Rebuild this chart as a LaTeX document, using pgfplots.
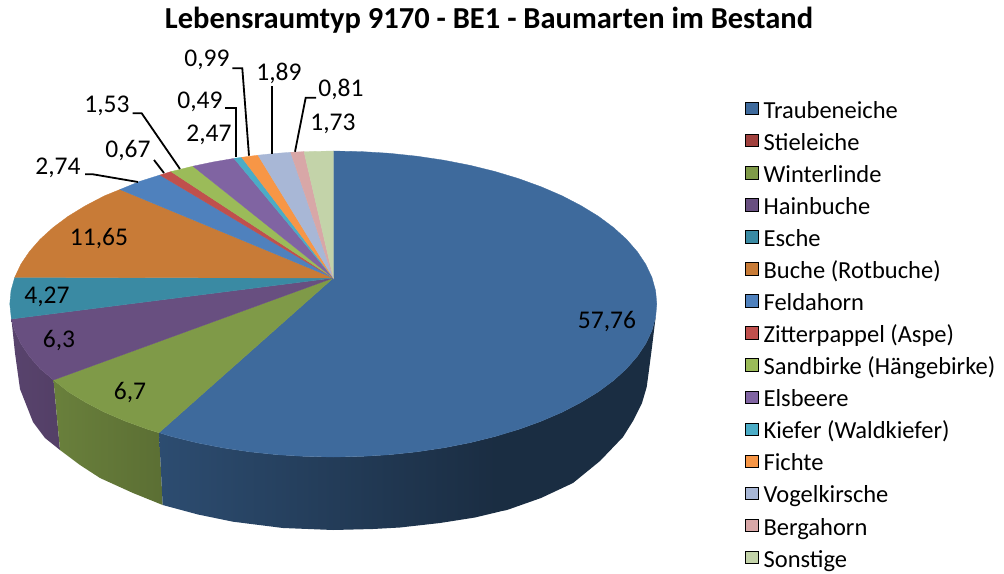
\documentclass[border=0pt]{standalone}
\usepackage{fontspec}
\setmainfont{Carlito}
\usepackage{pgfplots}
\pgfplotsset{compat=1.18}
\definecolor{tb}{HTML}{3E6A9C}\definecolor{st}{HTML}{A0403D}\definecolor{wl}{HTML}{7F9A48}
\definecolor{hb}{HTML}{684F80}\definecolor{es}{HTML}{3A8AA3}\definecolor{bu}{HTML}{C87B37}
\definecolor{fa}{HTML}{4F81BD}\definecolor{zi}{HTML}{C0504D}\definecolor{sa}{HTML}{9BBB59}
\definecolor{el}{HTML}{8064A2}\definecolor{ki}{HTML}{4BACC6}\definecolor{fi}{HTML}{F79646}
\definecolor{vo}{HTML}{A8B7D6}\definecolor{be}{HTML}{D8A7A7}\definecolor{so}{HTML}{C3D3A9}
\newcommand{\lab}{\fontsize{25.5}{25.5}\selectfont}
\tikzset{slice/.style={draw=#1,line width=0.3pt,fill=#1},lead/.style={black,line width=1.8pt}}
\begin{document}
\begin{tikzpicture}
\path[use as bounding box] (0,0) rectangle (1004pt,573pt);
\begin{axis}[at={(0,0)},anchor=south west,scale only axis,width=1004pt,height=573pt,
  xmin=0,xmax=1004,ymin=0,ymax=573,y dir=reverse,hide axis,
  legend image code/.code={\path[#1] (0pt,-1.5pt) rectangle (12.5pt,11pt);},
  legend cell align=left,
  legend style={draw=none,fill=none,font=\fontsize{24.5}{24.5}\selectfont,at={(axis cs:745,101.7)},anchor=north west,
    row sep=10.87pt,inner sep=0pt,
    nodes={inner ysep=0pt,inner xsep=5.5pt,text height=15pt,text depth=5pt}}]
% legend
\addlegendimage{fill=tb}\addlegendentry{Traubeneiche}
\addlegendimage{fill=st}\addlegendentry{Stieleiche}
\addlegendimage{fill=wl}\addlegendentry{Winterlinde}
\addlegendimage{fill=hb}\addlegendentry{Hainbuche}
\addlegendimage{fill=es}\addlegendentry{Esche}
\addlegendimage{fill=bu}\addlegendentry{Buche (Rotbuche)}
\addlegendimage{fill=fa}\addlegendentry{Feldahorn}
\addlegendimage{fill=zi}\addlegendentry{Zitterpappel (Aspe)}
\addlegendimage{fill=sa}\addlegendentry{Sandbirke (Hängebirke)}
\addlegendimage{fill=el}\addlegendentry{Elsbeere}
\addlegendimage{fill=ki}\addlegendentry{Kiefer (Waldkiefer)}
\addlegendimage{fill=fi}\addlegendentry{Fichte}
\addlegendimage{fill=vo}\addlegendentry{Vogelkirsche}
\addlegendimage{fill=be}\addlegendentry{Bergahorn}
\addlegendimage{fill=so}\addlegendentry{Sonstige}
% side faces
\addplot[forget plot,draw=none,left color=hb!85!black,right color=hb!80!black] coordinates {
 (11.4,319)(14.7,330.6)(20.8,343.6)(29.3,356.3)(40.1,368.7)(53.5,380)(60,450)(45,438)(33,422)(20,389)(15,353)} --cycle;
\addplot[forget plot,draw=none,left color=wl!83!black,right color=wl!72!black] coordinates {
 (53.5,380)(68.3,391.8)(85.5,402.3)(104.5,412.2)(125.4,421.2)(147.7,429.3)(159,432.7)(162.7,505)(133,493)(100,478)(80,465)(60,450)} --cycle;
\addplot[forget plot,draw=none,left color=tb!72!black,right color=tb!42!black] coordinates {
 (159,432.7)(171.5,436.5)(196.6,442.7)(222.7,447.8)(249.6,451.8)(277.1,454.7)(305.1,456.4)(333.3,457)(361.5,456.4)(389.5,454.7)(417,451.8)(443.9,447.8)(470,442.7)(495.1,436.5)(500,435)
 (500,511.5)(475,517.5)(440,523)(400,527.5)(373,529)(333,530)(283,528)(233,521.7)(198,514.5)(162.7,505)} --cycle;
\addplot[forget plot,draw=none,fill=tb!42!black] coordinates {
 (499.5,435)(518.9,429.3)(541.2,421.2)(562.1,412.2)(581.1,402.3)(598.3,391.8)(613.5,380.5)(626.5,368.7)(637.3,356.3)(645.8,343.6)(651.9,330.6)(655.6,317.3)
 (652,347)(649,370)(646.7,387)(642,403)(633,421)(623,437)(600,461)(573,483)(541,498)(507,510)(499.5,511.5)} --cycle;
% top faces
\addplot[forget plot,slice=tb] coordinates {(333.3,278)(333.3,151)(361.5,151.6)(389.5,153.3)(417,156.2)(443.9,160.2)(470,165.3)(495.1,171.5)(518.9,178.7)(541.2,186.8)(562.1,195.8)(581.1,205.7)(598.3,216.2)(613.5,227.5)(626.5,239.3)(637.3,251.7)(645.8,264.4)(651.9,277.4)(655.6,290.7)(656.8,304)(655.6,317.3)(651.9,330.6)(645.8,343.6)(637.3,356.3)(626.5,368.7)(613.5,380.5)(598.3,391.8)(581.1,402.3)(562.1,412.2)(541.2,421.2)(518.9,429.3)(495.1,436.5)(470,442.7)(443.9,447.8)(417,451.8)(389.5,454.7)(361.5,456.4)(333.3,457)(305.1,456.4)(277.1,454.7)(249.6,451.8)(222.7,447.8)(196.6,442.7)(171.5,436.5)(159,432.7)} --cycle;
\addplot[forget plot,slice=wl] coordinates {(333.3,278)(159,432.7)(147.7,429.3)(125.4,421.2)(104.5,412.2)(85.5,402.3)(68.3,391.8)(53.5,380)} --cycle;
\addplot[forget plot,slice=hb] coordinates {(333.3,278)(53.5,380)(40.1,368.7)(29.3,356.3)(20.8,343.6)(14.7,330.6)(11.4,319)} --cycle;
\addplot[forget plot,slice=es] coordinates {(333.3,278)(11.4,319)(9.8,304)(11,290.7)(14.7,277.4)} --cycle;
\addplot[forget plot,slice=bu] coordinates {(333.3,278)(14.7,277.4)(20.8,264.4)(29.3,251.7)(40.1,239.3)(53.1,227.5)(68.3,216.2)(85.5,205.7)(104.5,195.8)(120,189.5)} --cycle;
\addplot[forget plot,slice=fa] coordinates {(333.3,278)(120,189.5)(140,181.3)(160,175)} --cycle;
\addplot[forget plot,slice=zi] coordinates {(333.3,278)(160,175)(171,171.6)} --cycle;
\addplot[forget plot,slice=sa] coordinates {(333.3,278)(171,171.6)(193,166.2)} --cycle;
\addplot[forget plot,slice=el] coordinates {(333.3,278)(193,166.2)(213,162)(234,158.4)} --cycle;
\addplot[forget plot,slice=ki] coordinates {(333.3,278)(234,158.4)(241.7,157.3)} --cycle;
\addplot[forget plot,slice=fi] coordinates {(333.3,278)(241.7,157.3)(258,155.2)} --cycle;
\addplot[forget plot,slice=vo] coordinates {(333.3,278)(258,155.2)(274,153.5)(290.7,152.3)} --cycle;
\addplot[forget plot,slice=be] coordinates {(333.3,278)(290.7,152.3)(304,151.6)} --cycle;
\addplot[forget plot,slice=so] coordinates {(333.3,278)(304,151.6)(333.3,151)} --cycle;
% leader lines
\addplot[forget plot,lead] coordinates {(85,174.3)(93,174.3)(138,182)};
\addplot[forget plot,lead] coordinates {(154,160)(164,173)};
\addplot[forget plot,lead] coordinates {(132.7,113.3)(141.7,113.3)(180,169)};
\addplot[forget plot,lead] coordinates {(225,108.3)(236,108.3)(236,156.7)};
\addplot[forget plot,lead] coordinates {(232.3,68.3)(242.3,68.3)(249,155.7)};
\addplot[forget plot,lead] coordinates {(271.7,86)(271.7,154)};
\addplot[forget plot,lead] coordinates {(316,97.7)(305.7,97.7)(295,151.7)};
% labels
\node[font=\lab] at (axis cs:607,322) {57,76};
\node[font=\lab] at (axis cs:130,393) {6,7};
\node[font=\lab] at (axis cs:59,341) {6,3};
\node[font=\lab] at (axis cs:47,297) {4,27};
\node[font=\lab] at (axis cs:99,239) {11,65};
\node[font=\lab] at (axis cs:58,168) {2,74};
\node[font=\lab] at (axis cs:128,151) {0,67};
\node[font=\lab] at (axis cs:107,106) {1,53};
\node[font=\lab] at (axis cs:209,135) {2,47};
\node[font=\lab] at (axis cs:200,102) {0,49};
\node[font=\lab] at (axis cs:207,60) {0,99};
\node[font=\lab] at (axis cs:279,73) {1,89};
\node[font=\lab] at (axis cs:341,89) {0,81};
\node[font=\lab] at (axis cs:333,124) {1,73};
\node[font=\fontsize{30.5}{30.5}\selectfont\bfseries] at (axis cs:489,20) {Lebensraumtyp 9170 - BE1 - Baumarten im Bestand};
\end{axis}
\end{tikzpicture}
\end{document}
